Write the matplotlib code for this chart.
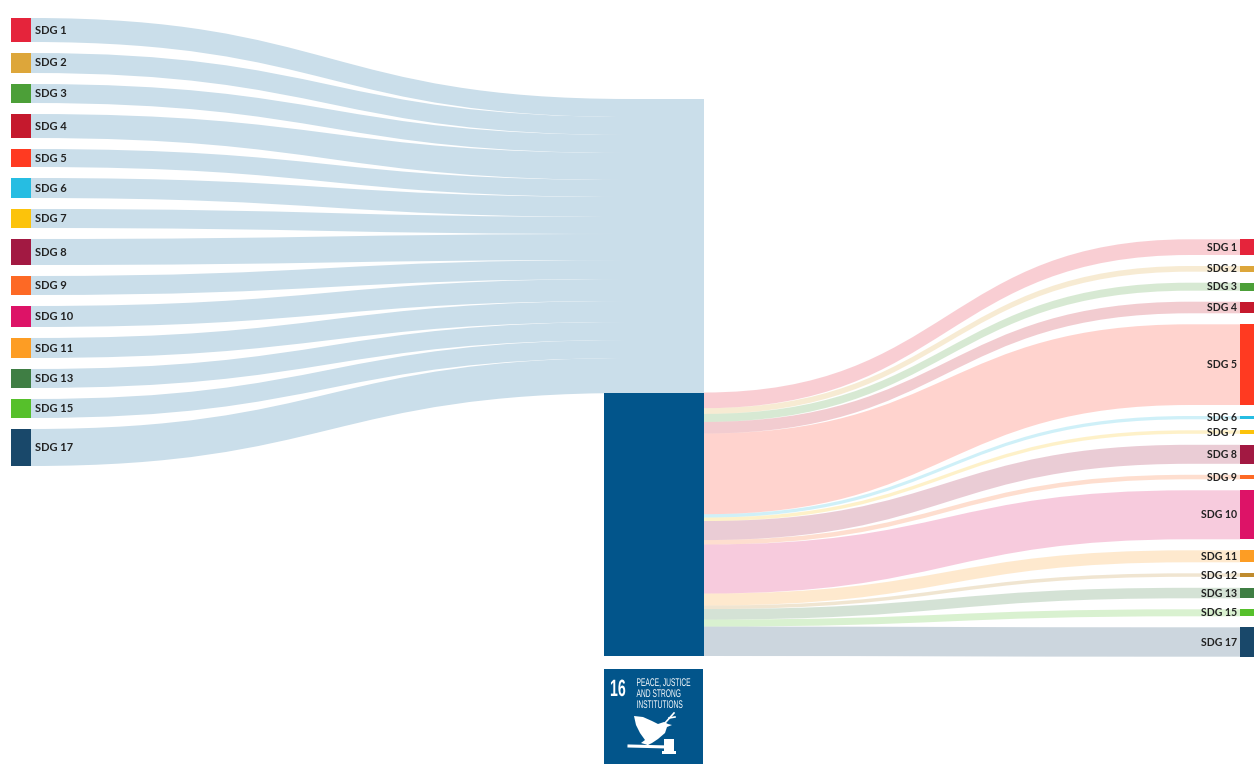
import matplotlib
matplotlib.use("Agg")
import matplotlib.pyplot as plt
from matplotlib.path import Path
from matplotlib.patches import PathPatch, Rectangle, Polygon
from matplotlib.patheffects import AbstractPathEffect
from matplotlib.transforms import Affine2D

left_labels = ["SDG 1", "SDG 2", "SDG 3", "SDG 4", "SDG 5", "SDG 6", "SDG 7", "SDG 8",
               "SDG 9", "SDG 10", "SDG 11", "SDG 13", "SDG 15", "SDG 17"]
left_values = [24, 20, 19, 24, 18, 20, 19, 26, 19, 21, 20, 19, 19, 37]
# width of each flow where it joins the goal 16 block
left_flow_values = [18, 18, 18, 27, 17, 20, 17, 26, 19, 22, 21, 18, 18, 35]
right_labels = ["SDG 1", "SDG 2", "SDG 3", "SDG 4", "SDG 5", "SDG 6", "SDG 7", "SDG 8",
                "SDG 9", "SDG 10", "SDG 11", "SDG 12", "SDG 13", "SDG 15", "SDG 17"]
right_values = [15.7, 5.7, 8, 11.6, 80.7, 3.3, 3.5, 19, 4.5, 49, 12, 3.5, 10.5, 7, 29.4]
colors = {"SDG 1": "#e5243b", "SDG 2": "#dda63a", "SDG 3": "#4c9f38", "SDG 4": "#c5192d",
          "SDG 5": "#ff3a21", "SDG 6": "#26bde2", "SDG 7": "#fcc30b", "SDG 8": "#a21942",
          "SDG 9": "#fd6925", "SDG 10": "#dd1367", "SDG 11": "#fd9d24", "SDG 12": "#bf8b2e",
          "SDG 13": "#3f7e44", "SDG 15": "#56c02b", "SDG 17": "#19486a"}

DARK = "#02558b"
FONT = "Lato"


class Squeeze(AbstractPathEffect):
    # narrows the glyphs, there is no condensed font installed
    def __init__(self, sx):
        super().__init__()
        self.sx = sx

    def draw_path(self, renderer, gc, tpath, affine, rgbFace=None):
        renderer.draw_path(gc, tpath, Affine2D().scale(self.sx, 1) + affine, rgbFace)


def band(ax, x0, x1, y0a, y0b, y1a, y1b, color, alpha=1.0, end=None):
    # sankey ribbon, flat from end to x1
    xe = end if end else x1
    xm = (x0 + xe) / 2
    verts = [(x0, y0a), (xm, y0a), (xm, y1a), (xe, y1a), (x1, y1a),
             (x1, y1b), (xe, y1b), (xm, y1b), (xm, y0b), (x0, y0b), (x0, y0a)]
    codes = [Path.MOVETO, Path.CURVE4, Path.CURVE4, Path.CURVE4, Path.LINETO,
             Path.LINETO, Path.LINETO, Path.CURVE4, Path.CURVE4, Path.CURVE4, Path.CLOSEPOLY]
    ax.add_patch(PathPatch(Path(verts, codes), fc=color, ec="none", alpha=alpha, zorder=1))


fig = plt.figure(figsize=(12.54, 7.64), dpi=100)
ax = fig.add_axes([0, 0, 1, 1])
ax.set_xlim(0, 1254)
ax.set_ylim(764, 0)
ax.axis("off")

# left side
y = 18
gap = 11
hub = 99
for name, v, h in zip(left_labels, left_values, left_flow_values):
    band(ax, 31, 704, y, y + v, hub, hub + h, "#cadeea", end=630)
    ax.add_patch(Rectangle((11, y), 20, v, fc=colors[name], ec="none", zorder=3))
    ax.text(35, y + v / 2, name, ha="left", va="center", fontsize=8, fontweight="bold",
            family=FONT, color="#222222", zorder=4)
    y += v + gap
    hub += h

# right side
y = 239.3
gap = 11
hub = 392.5
scale = 263.5 / sum(right_values)
for name, v in zip(right_labels, right_values):
    h = v * scale
    band(ax, 704, 1240, hub, hub + h, y, y + v, colors[name], alpha=0.22, end=1190)
    ax.add_patch(Rectangle((1240, y), 14, v, fc=colors[name], ec="none", zorder=3))
    ax.text(1237, y + v / 2, name, ha="right", va="center", fontsize=7.6, fontweight="bold",
            family=FONT, color="#222222", zorder=4)
    y += v + gap
    hub += h

# centre node
ax.add_patch(Rectangle((604, 393), 100, 263, fc=DARK, ec="none", zorder=3))

# goal 16 icon
ax.add_patch(Rectangle((604, 669), 99, 95, fc=DARK, ec="none", zorder=3))
narrow = "Liberation Sans"
ax.text(610, 696, "16", ha="left", va="baseline", fontsize=17, fontweight="bold",
        family=narrow, color="white", zorder=4, path_effects=[Squeeze(0.6)])
for i, line in enumerate(["PEACE, JUSTICE", "AND STRONG", "INSTITUTIONS"]):
    ax.text(636.5, 686 + i * 11, line, ha="left", va="baseline", fontsize=8,
            family=narrow, color="white", zorder=4, path_effects=[Squeeze(0.6)])
dove = [(634, 716), (643, 717), (652, 721), (658, 724), (664, 722), (668, 724), (672, 725),
        (667, 727), (665, 733), (658, 739), (652, 743), (648, 745), (641, 743), (645, 740),
        (640, 733), (636, 725)]
ax.add_patch(Polygon(dove, fc="white", ec="none", zorder=4))
ax.plot([665, 674], [723, 713], color="white", lw=1.2, zorder=4)
ax.plot([669, 675], [718, 717], color="white", lw=1.2, zorder=4)
ax.plot([629, 668], [746, 747], color="white", lw=2.2, zorder=4)
ax.plot([647, 647], [744, 746], color="white", lw=1, zorder=4)
ax.add_patch(Rectangle((664, 739), 10, 15, fc="white", ec="none", zorder=4))
ax.add_patch(Rectangle((662, 751), 14, 3, fc="white", ec="none", zorder=4))

fig.savefig("out.png", dpi=100)
